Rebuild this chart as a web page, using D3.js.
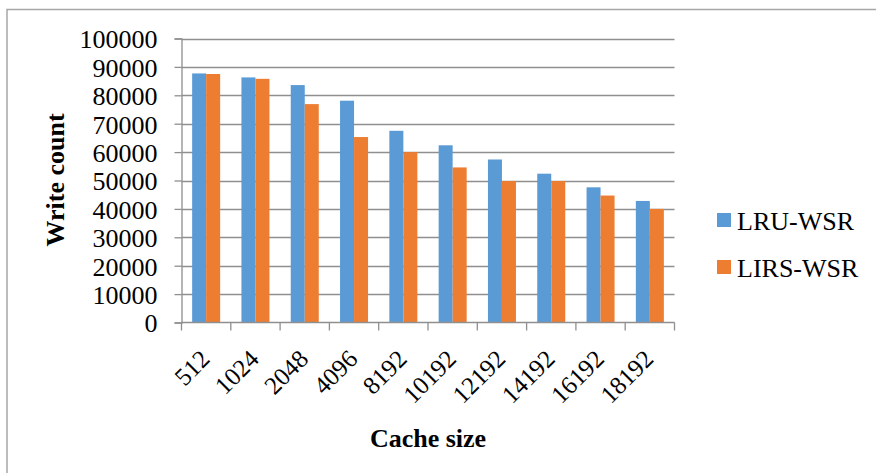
<!DOCTYPE html>
<html>
<head>
<meta charset="utf-8">
<script src="https://cdn.jsdelivr.net/npm/d3@7"></script>
<style>
  html, body { margin: 0; padding: 0; background: #fff; }
  svg { display: block; }
  svg text { font-family: "Liberation Serif", Tinos, "Times New Roman", Times, "DejaVu Serif", serif !important; fill: #000; }
</style>
</head>
<body>
<script>
const categories = ["512", "1024", "2048", "4096", "8192", "10192", "12192", "14192", "16192", "18192"];
const seriesNames = ["LRU-WSR", "LIRS-WSR"];
const lruWsr  = [87700, 86300, 83600, 78100, 67500, 62400, 57400, 52400, 47600, 42800];
const lirsWsr = [87500, 85800, 76900, 65300, 60000, 54600, 49800, 49800, 44700, 40000];
const yTicks = [0, 10000, 20000, 30000, 40000, 50000, 60000, 70000, 80000, 90000, 100000];
const colors = ["#5B9BD5", "#ED7D31"];

const W = 876, H = 473;
const plotL = 181.5, plotR = 674.5, plotT = 38.5, plotB = 322.5;
const FONT = "'Liberation Serif', Tinos, 'Times New Roman', Times, 'DejaVu Serif', serif";

const svg = d3.select("body").append("svg").attr("width", W).attr("height", H)
  .attr("font-family", FONT);

// outer frame
svg.append("path")
  .attr("d", `M7,${H + 5} V9.5 H${W + 5}`)
  .attr("fill", "none").attr("stroke", "#a6a6a6").attr("stroke-width", 1.5);

const x0 = d3.scaleBand().domain(categories).range([plotL, plotR]).paddingInner(0).paddingOuter(0);
const x1 = d3.scaleBand().domain(seriesNames).range([0, x0.bandwidth()]).paddingInner(0).paddingOuter(0.76);
const y = d3.scaleLinear().domain([0, 100000]).range([plotB, plotT]);

// gridlines
svg.append("g").selectAll("line").data(yTicks.filter(d => d > 0)).join("line")
  .attr("x1", plotL).attr("x2", plotR)
  .attr("y1", d => Math.round(y(d)) + 0.5).attr("y2", d => Math.round(y(d)) + 0.5)
  .attr("stroke", "#8f8f8f").attr("stroke-width", 1.3);

// y axis
const yAxis = d3.axisLeft(y).tickValues(yTicks).tickSize(7).tickPadding(17).tickFormat(d3.format("d"));
const gy = svg.append("g").attr("transform", `translate(${plotL},0)`).call(yAxis)
  .attr("font-family", FONT).attr("font-size", 26);
gy.select(".domain").attr("stroke", "#8f8f8f").attr("stroke-width", 1.3);
gy.selectAll(".tick line").attr("stroke", "#8f8f8f").attr("stroke-width", 1.3);
gy.selectAll(".tick text")
  .style("font-family", FONT)
  .style("font-size", "26px").attr("fill", "#000").attr("dy", "0.36em");

// bars
const data = categories.map((c, i) => ({ c, vals: [lruWsr[i], lirsWsr[i]] }));
const groups = svg.append("g").selectAll("g").data(data).join("g")
  .attr("transform", d => `translate(${x0(d.c)},0)`);
groups.selectAll("rect").data(d => d.vals.map((v, j) => ({ s: seriesNames[j], v, j }))).join("rect")
  .attr("x", d => x1(d.s))
  .attr("width", x1.bandwidth())
  .attr("y", d => y(d.v))
  .attr("height", d => y(0) - y(d.v))
  .attr("fill", d => colors[d.j]);

// x axis
const boundaries = categories.map(c => x0(c)).concat([plotR]);
svg.append("line").attr("x1", plotL).attr("x2", plotR).attr("y1", plotB).attr("y2", plotB)
  .attr("stroke", "#8f8f8f").attr("stroke-width", 1.3);
svg.append("g").selectAll("line").data(boundaries).join("line")
  .attr("x1", d => d).attr("x2", d => d).attr("y1", plotB).attr("y2", plotB + 8)
  .attr("stroke", "#8f8f8f").attr("stroke-width", 1.3);

svg.append("g").selectAll("text").data(categories).join("text")
  .attr("transform", d => `translate(${x0(d) + x0.bandwidth() / 2 + 5},${plotB + 38}) rotate(-45)`)
  .attr("text-anchor", "end")
  .style("font-family", FONT)
  .style("font-size", "25px")
  .text(d => d);

// axis titles
svg.append("text")
  .attr("transform", `translate(64,180) rotate(-90)`)
  .attr("text-anchor", "middle")
  .style("font-family", FONT)
  .style("font-size", "26px").style("font-weight", "bold")
  .text("Write count");

svg.append("text")
  .attr("x", (plotL + plotR) / 2).attr("y", 447)
  .attr("text-anchor", "middle")
  .style("font-family", FONT)
  .style("font-size", "26px").style("font-weight", "bold")
  .text("Cache size");

// legend
const legend = svg.append("g").selectAll("g").data(seriesNames).join("g")
  .attr("transform", (d, i) => `translate(717,${213 + i * 47})`);
legend.append("rect").attr("width", 14).attr("height", 14).attr("fill", (d, i) => colors[i]);
legend.append("text").attr("x", 20).attr("y", 17)
  .style("font-family", FONT)
  .style("font-size", "26px").text(d => d);
</script>
</body>
</html>
